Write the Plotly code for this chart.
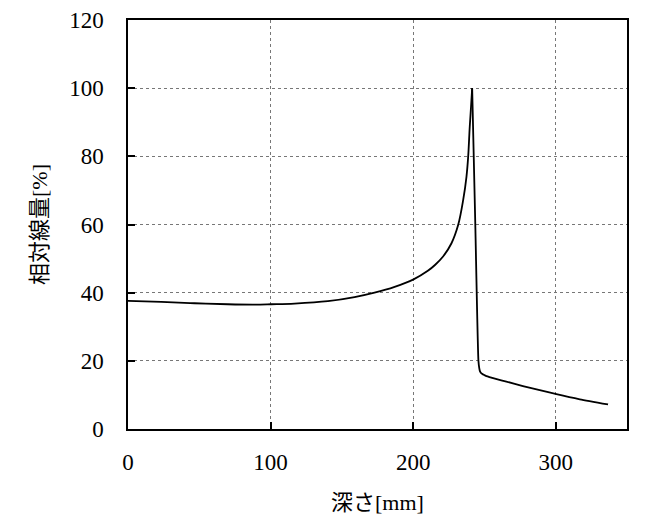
import plotly.graph_objects as go

# rising part (entrance plateau up to the Bragg peak)
depth_rise_mm = [0, 23.4, 46.7, 70, 88.8, 100.5, 116.8, 140.2, 158.9, 172.9, 187, 200.3,
                 210.3, 215.5, 221, 226.9, 231.6, 235.1, 237.4, 238.6, 239.7, 240.6, 241.4]
dose_rise = [37.6, 37.3, 36.9, 36.6, 36.5, 36.6, 36.8, 37.5, 38.7, 40.0, 41.7, 43.9,
             46.4, 48.2, 50.6, 54.5, 59.9, 67.2, 74.0, 79.9, 88.7, 94.5, 100.0]

# distal fall-off and tail
depth_fall_mm = [241.4, 243.6, 245.8, 246.4, 246.9, 247.9, 249.5, 251.4, 258, 265.4, 277,
                 288.8, 300.5, 316.9, 336.7]
dose_fall = [100.0, 60.0, 20.0, 17.8, 16.9, 16.3, 15.9, 15.5, 14.7, 13.9, 12.6,
             11.4, 10.2, 8.7, 7.2]

x_ticks = [0, 100, 200, 300]
y_ticks = [0, 20, 40, 60, 80, 100, 120]

font_family = "Liberation Serif, Noto Sans CJK JP, serif"

fig = go.Figure()
fig.add_trace(go.Scatter(x=depth_rise_mm, y=dose_rise, mode="lines",
                         line=dict(color="black", width=1.8, shape="spline", smoothing=1.0),
                         showlegend=False))
fig.add_trace(go.Scatter(x=depth_fall_mm, y=dose_fall, mode="lines",
                         line=dict(color="black", width=1.8, shape="spline", smoothing=0.6),
                         showlegend=False))

axis_common = dict(
    showline=True, linecolor="black", linewidth=1.5, mirror=True,
    ticks="inside", ticklen=7, tickwidth=1.5, tickcolor="black",
    showgrid=True, gridcolor="#777777", griddash="3px,3px", gridwidth=1,
    zeroline=False, automargin=False,
    tickfont=dict(family=font_family, size=23, color="black"),
)

fig.update_layout(
    width=650, height=518,
    margin=dict(l=120, r=31, t=12, b=97),
    plot_bgcolor="white", paper_bgcolor="white",
    font=dict(family=font_family, color="black"),
    xaxis=dict(range=[0, 350], tickvals=x_ticks, ticklabelstandoff=12,
               title=dict(text="深さ[mm]", font=dict(family=font_family, size=22), standoff=20),
               **axis_common),
    yaxis=dict(range=[0, 120], tickvals=y_ticks, ticklabelstandoff=18,
               title=dict(text="相対線量[%]", font=dict(family=font_family, size=22), standoff=15),
               **axis_common),
)

fig.write_html("out.html")
